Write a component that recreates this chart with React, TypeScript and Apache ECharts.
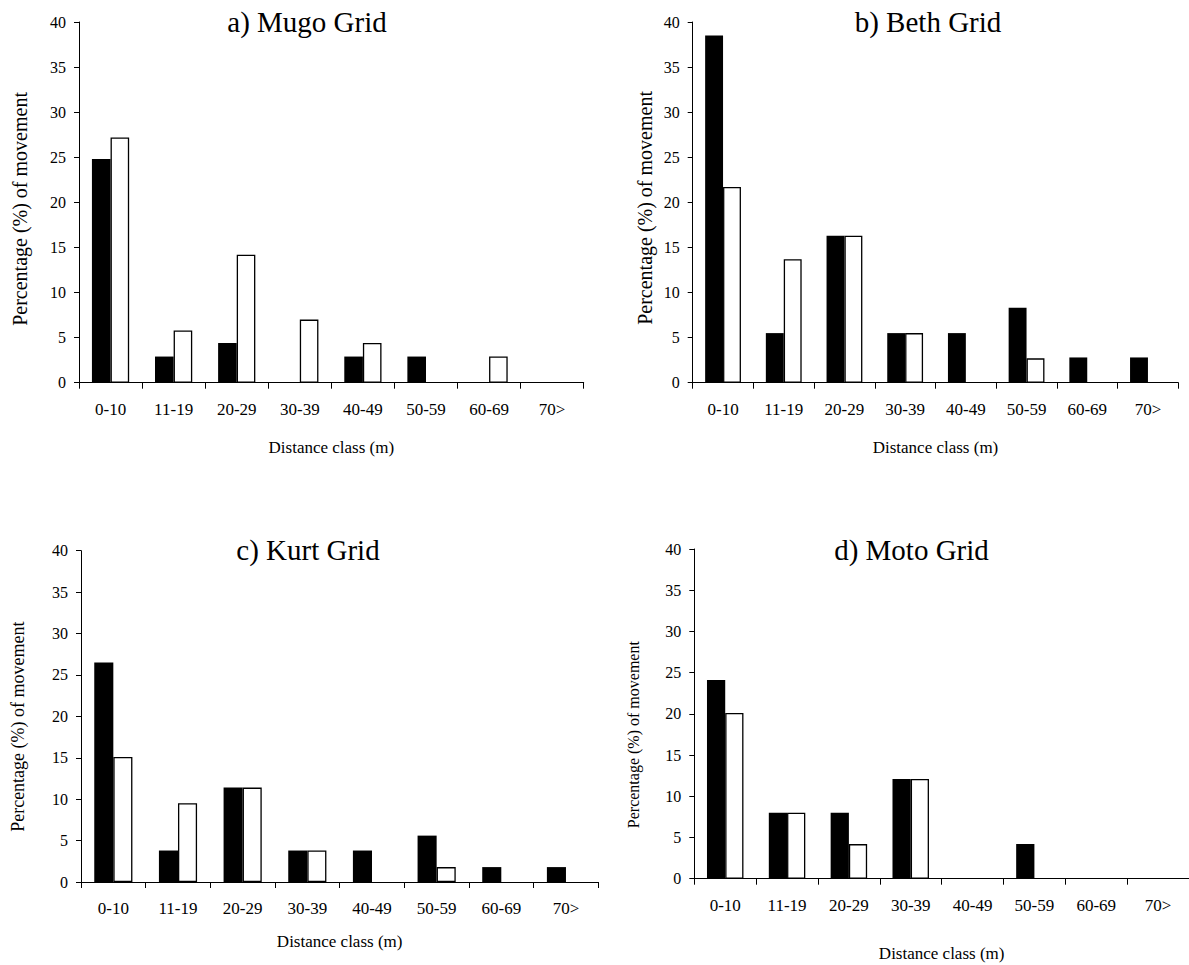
import React, { useEffect, useRef } from 'react';
import * as echarts from 'echarts';

// Distance classes (m)
const categories = ['0-10', '11-19', '20-29', '30-39', '40-49', '50-59', '60-69', '70>'];

// Percentage (%) of movement
const mugoBlack = [24.8, 2.9, 4.4, 0, 2.9, 2.9, 0, 0];
const mugoWhite = [27.2, 5.8, 14.2, 7.0, 4.4, 0, 2.9, 0];
const bethBlack = [38.5, 5.5, 16.3, 5.5, 5.5, 8.3, 2.8, 2.8];
const bethWhite = [21.7, 13.7, 16.3, 5.5, 0, 2.7, 0, 0];
const kurtBlack = [26.5, 3.8, 11.4, 3.8, 3.8, 5.6, 1.8, 1.8];
const kurtWhite = [15.1, 9.5, 11.4, 3.8, 0, 1.8, 0, 0];
const motoBlack = [24.1, 8.0, 8.0, 12.1, 0, 4.2, 0, 0];
const motoWhite = [20.1, 8.0, 4.2, 12.1, 0, 0, 0, 0];

const panelTitles = ['a) Mugo Grid', 'b) Beth Grid', 'c) Kurt Grid', 'd) Moto Grid'];
const yAxisTitle = 'Percentage (%) of movement';
const xAxisTitle = 'Distance class (m)';

const FONT = "'Liberation Serif', 'Times New Roman', serif";

const layouts = [
  { grid: { left: 79, top: 22, width: 504.7, height: 360.7 }, titleX: 307, titleTop: 7, yGap: 49, ySize: 20, yShift: 6.6, xGap: 56 },
  { grid: { left: 692.7, top: 22, width: 485.6, height: 360.7 }, titleX: 928, titleTop: 7, yGap: 38, ySize: 20, yShift: 5.6, xGap: 56 },
  { grid: { left: 81, top: 550.7, width: 517.3, height: 331.3 }, titleX: 308, titleTop: 535.5, yGap: 54, ySize: 18, yShift: 10.3, xGap: 51 },
  { grid: { left: 694.3, top: 549, width: 501, height: 329.7 }, titleX: 911.5, titleTop: 535.5, yGap: 53, ySize: 16, yShift: 20.8, xGap: 66 },
];

const seriesData = [
  [mugoBlack, mugoWhite],
  [bethBlack, bethWhite],
  [kurtBlack, kurtWhite],
  [motoBlack, motoWhite],
];

export default function App() {
  const ref = useRef<HTMLDivElement>(null);

  useEffect(() => {
    if (!ref.current) return;
    const chart = echarts.init(ref.current, undefined, { renderer: 'svg' });

    const option: any = {
      animation: false,
      backgroundColor: '#ffffff',
      title: layouts.map((l, i) => ({
        text: panelTitles[i],
        left: l.titleX,
        top: l.titleTop,
        textAlign: 'center',
        padding: 0,
        textStyle: { fontFamily: FONT, fontSize: 29, fontWeight: 'normal', color: '#000' },
      })),
      grid: layouts.map((l) => ({ ...l.grid, containLabel: false })),
      xAxis: layouts.map((l, i) => ({
        type: 'category',
        gridIndex: i,
        data: categories,
        boundaryGap: true,
        name: xAxisTitle,
        nameLocation: 'middle',
        nameGap: l.xGap,
        nameTextStyle: { fontFamily: FONT, fontSize: 17, color: '#000' },
        axisLine: { show: true, lineStyle: { color: '#000', width: 1 } },
        axisTick: { show: true, alignWithLabel: false, interval: 0, length: 6, lineStyle: { color: '#000', width: 1 } },
        axisLabel: { interval: 0, margin: 18, fontFamily: FONT, fontSize: 17, color: '#000' },
        splitLine: { show: false },
      })),
      yAxis: layouts.map((l, i) => ({
        type: 'value',
        gridIndex: i,
        min: 0,
        max: 40,
        interval: 5,
        name: yAxisTitle,
        nameLocation: 'middle',
        nameRotate: 90,
        nameGap: l.yGap,
        nameTextStyle: {
          fontFamily: FONT,
          fontSize: l.ySize,
          color: '#000',
          padding: [0, 2 * l.yShift, 0, 0],
        },
        axisLine: { show: true, lineStyle: { color: '#000', width: 1 } },
        axisTick: { show: true, length: 5, lineStyle: { color: '#000', width: 1 } },
        axisLabel: { margin: 13, fontFamily: FONT, fontSize: 16, color: '#000' },
        splitLine: { show: false },
      })),
      series: seriesData.flatMap((pair, i) => [
        {
          name: 'Black',
          type: 'bar',
          xAxisIndex: i,
          yAxisIndex: i,
          data: pair[0],
          barGap: '0%',
          barCategoryGap: '41%',
          itemStyle: { color: '#000000' },
        },
        {
          name: 'White',
          type: 'bar',
          xAxisIndex: i,
          yAxisIndex: i,
          data: pair[1].map((v) => (v === 0 ? { value: v, itemStyle: { borderWidth: 0 } } : v)),
          barGap: '0%',
          barCategoryGap: '41%',
          itemStyle: { color: '#ffffff', borderColor: '#000000', borderWidth: 1.3 },
        },
      ]),
    };

    chart.setOption(option);
    return () => chart.dispose();
  }, []);

  return (
    <div
      ref={ref}
      style={{ position: 'absolute', left: 0, top: 0, width: 1189, height: 965 }}
    />
  );
}
